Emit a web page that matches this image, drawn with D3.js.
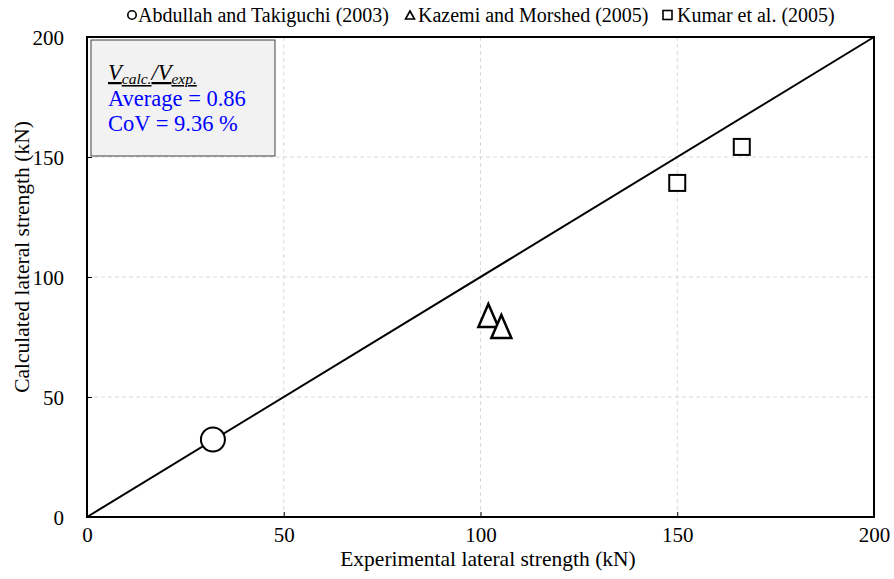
<!DOCTYPE html>
<html><head><meta charset="utf-8">
<script src="https://cdn.jsdelivr.net/npm/d3@7"></script>
<style>body{margin:0;background:#fff}svg{display:block}</style>
</head><body><svg id="c" width="894" height="579"></svg>
<script>
const seriesNames = ["Abdullah and Takiguchi (2003)", "Kazemi and Morshed (2005)", "Kumar et al. (2005)"];
const abdullahX = [32.0];
const abdullahY = [32.3];
const kazemiX = [102.0, 105.3];
const kazemiY = [84.0, 79.4];
const kumarX = [150.0, 166.4];
const kumarY = [139.2, 154.2];
const xTicks = [0, 50, 100, 150, 200];
const yTicks = [0, 50, 100, 150, 200];
const lineX = [0, 200];
const lineY = [0, 200];

const svg = d3.select("#c");
const font = "'Liberation Serif','Times New Roman',serif";
const m = {l: 87, r: 874, t: 37, b: 517};
const x = d3.scaleLinear().domain([0, 200]).range([m.l, m.r]);
const y = d3.scaleLinear().domain([0, 200]).range([m.b, m.t]);

// grid
const g = svg.append("g");
g.selectAll(".vg").data(xTicks.slice(1, -1)).join("line")
  .attr("x1", d => x(d)).attr("x2", d => x(d)).attr("y1", m.t).attr("y2", m.b)
  .attr("stroke", "#d9d9d9").attr("stroke-width", 1).attr("stroke-dasharray", "4,3");
g.selectAll(".hg").data(yTicks.slice(1, -1)).join("line")
  .attr("y1", d => y(d)).attr("y2", d => y(d)).attr("x1", m.l).attr("x2", m.r)
  .attr("stroke", "#d9d9d9").attr("stroke-width", 1).attr("stroke-dasharray", "4,3");

// axes
const xAxis = d3.axisBottom(x).tickValues(xTicks).tickSize(-5).tickPadding(10);
const yAxis = d3.axisLeft(y).tickValues(yTicks).tickSize(-5).tickPadding(23);
const gx = svg.append("g").attr("transform", `translate(0,${m.b})`).call(xAxis);
const gy = svg.append("g").attr("transform", `translate(${m.l},0)`).call(yAxis);
[gx, gy].forEach(a => {
  a.select(".domain").remove();
  a.selectAll("text").attr("font-family", font).attr("font-size", 21).attr("fill", "#000");
  a.selectAll("line").attr("stroke", "#000").attr("stroke-width", 1);
});
gx.selectAll("text").attr("dy", "0.71em");
gy.selectAll("text").attr("dy", "0.35em");

// frame
svg.append("rect").attr("x", m.l).attr("y", m.t).attr("width", m.r - m.l).attr("height", m.b - m.t)
  .attr("fill", "none").attr("stroke", "#000").attr("stroke-width", 2);

// info box
svg.append("rect").attr("x", 91).attr("y", 40).attr("width", 184).attr("height", 116)
  .attr("fill", "#f2f2f2").attr("stroke", "#404040").attr("stroke-width", 1);
const t1 = svg.append("text").attr("x", 108).attr("y", 80).attr("font-family", font)
  .attr("font-size", 22.5).attr("font-style", "italic").attr("text-decoration", "underline").attr("fill", "#000");
t1.append("tspan").text("V");
t1.append("tspan").attr("font-size", 15.5).attr("dy", 4).text("calc.");
t1.append("tspan").attr("dy", -4).text("/V");
t1.append("tspan").attr("font-size", 15.5).attr("dy", 4).text("exp.");
svg.append("text").attr("x", 108).attr("y", 106).attr("font-family", font).attr("font-size", 22.5)
  .attr("fill", "#0000ff").text("Average = 0.86");
svg.append("text").attr("x", 108).attr("y", 131).attr("font-family", font).attr("font-size", 22.5)
  .attr("fill", "#0000ff").text("CoV = 9.36 %");

// 1:1 line
svg.append("path").datum(lineX.map((d, i) => [d, lineY[i]]))
  .attr("d", d3.line().x(d => x(d[0])).y(d => y(d[1])))
  .attr("stroke", "#000").attr("stroke-width", 2).attr("fill", "none");

// markers
const zip = (a, b) => a.map((d, i) => [d, b[i]]);
svg.append("g").selectAll("circle").data(zip(abdullahX, abdullahY)).join("circle")
  .attr("cx", d => x(d[0])).attr("cy", d => y(d[1])).attr("r", 12)
  .attr("fill", "#fff").attr("stroke", "#000").attr("stroke-width", 2);
const triPath = (w, h) => `M0,${-h / 2}L${w / 2},${h / 2}L${-w / 2},${h / 2}Z`;
svg.append("g").selectAll("path").data(zip(kazemiX, kazemiY)).join("path")
  .attr("transform", d => `translate(${x(d[0])},${y(d[1])})`).attr("d", triPath(20, 23))
  .attr("fill", "#fff").attr("stroke", "#000").attr("stroke-width", 2.5).attr("stroke-linejoin", "miter");
svg.append("g").selectAll("rect").data(zip(kumarX, kumarY)).join("rect")
  .attr("x", d => x(d[0]) - 8).attr("y", d => y(d[1]) - 8).attr("width", 16).attr("height", 16)
  .attr("fill", "#fff").attr("stroke", "#000").attr("stroke-width", 2);

// legend
const leg = svg.append("g");
const legX = [138, 418, 677];
const ly = 15;
leg.append("circle").attr("cx", legX[0] - 6).attr("cy", ly).attr("r", 4.2).attr("fill", "#fff").attr("stroke", "#000").attr("stroke-width", 1.6);
leg.append("path").attr("transform", `translate(${legX[1] - 8},${ly})`).attr("d", triPath(9, 8))
  .attr("fill", "#fff").attr("stroke", "#000").attr("stroke-width", 1.6);
leg.append("rect").attr("x", legX[2] - 14).attr("y", ly - 4.5).attr("width", 9).attr("height", 9)
  .attr("fill", "#fff").attr("stroke", "#000").attr("stroke-width", 1.6);
seriesNames.forEach((s, i) => {
  leg.append("text").attr("x", legX[i]).attr("y", ly).attr("dy", "0.35em").attr("font-family", font)
    .attr("font-size", 20).attr("fill", "#000").text(s);
});

// axis titles
svg.append("text").attr("x", 488).attr("y", 566).attr("text-anchor", "middle").attr("font-family", font)
  .attr("font-size", 21.5).attr("fill", "#000").text("Experimental lateral strength (kN)");
svg.append("text").attr("transform", "translate(29,257) rotate(-90)").attr("text-anchor", "middle")
  .attr("font-family", font).attr("font-size", 21.5).attr("fill", "#000").text("Calculated lateral strength (kN)");
</script></body></html>
